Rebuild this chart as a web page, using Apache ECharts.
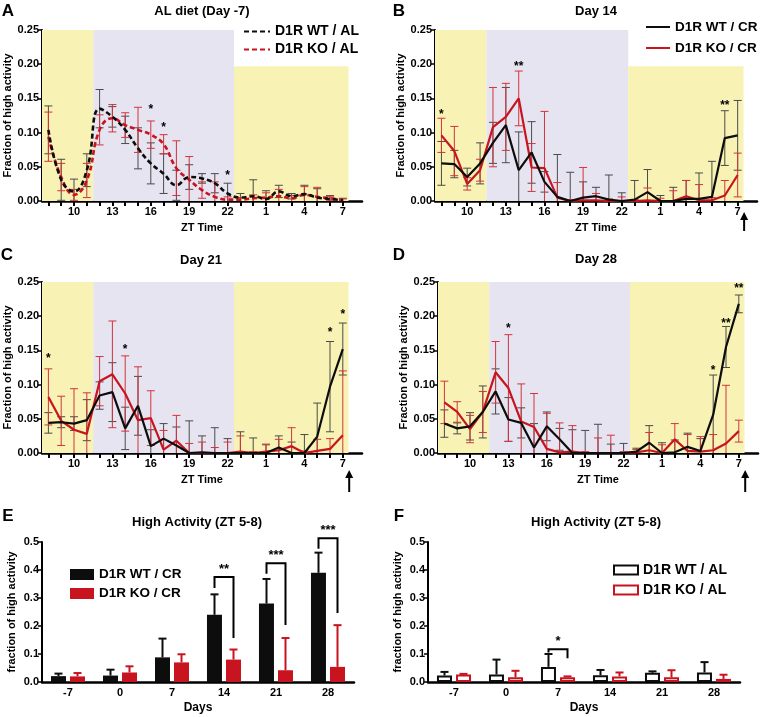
<!DOCTYPE html>
<html><head><meta charset="utf-8">
<script src="https://cdn.jsdelivr.net/npm/echarts@6/dist/echarts.min.js"></script>
<style>html,body{margin:0;padding:0;background:#fff}#c{width:761px;height:717px}</style>
</head><body><div id="c"></div><script>
// ---------- DATA ----------
const ztHours = [8,9,10,11,12,13,14,15,16,17,18,19,20,21,22,23,24,25,26,27,28,29,30,31];
const ztLabelHours = [10,13,16,19,22,25,28,31];
const ztLabelText = ['10','13','16','19','22','1','4','7'];

// Panel A: AL diet (Day -7)
const aWT  = [0.104,0.031,0.014,0.045,0.135,0.123,0.104,0.077,0.055,0.040,0.023,0.035,0.033,0.026,0.011,0.005,0.007,0.003,0.014,0.007,0.010,0.005,0.003,0.001];
const aWTe = [0.035,0.030,0.018,0.024,0.028,0.015,0.020,0.030,0.030,0.029,0.022,0.018,0.007,0.014,0.015,0.006,0.024,0.012,0.009,0.004,0.013,0.013,0.005,0.003];
const aKO  = [0.094,0.035,0.009,0.030,0.104,0.121,0.111,0.104,0.097,0.083,0.048,0.031,0.016,0.006,0.002,0.002,0.004,0.005,0.007,0.004,0.009,0.006,0.004,0.001];
const aKOe = [0.036,0.020,0.008,0.025,0.022,0.020,0.018,0.033,0.020,0.014,0.040,0.034,0.012,0.022,0.004,0.003,0.005,0.007,0.010,0.004,0.012,0.014,0.003,0.002];
// Panel B: Day 14
const bWT  = [0.055,0.054,0.035,0.055,0.085,0.111,0.045,0.071,0.028,0.006,0.000,0.005,0.007,0.002,0.000,0.002,0.013,0.000,0.000,0.003,0.003,0.006,0.092,0.096];
const bWTe = [0.032,0.020,0.013,0.030,0.030,0.055,0.056,0.045,0.015,0.062,0.042,0.023,0.013,0.036,0.012,0.028,0.033,0.008,0.020,0.027,0.038,0.052,0.040,0.051];
const bKO  = [0.096,0.073,0.025,0.045,0.108,0.123,0.150,0.049,0.048,0.005,0.000,0.001,0.001,0.000,0.000,0.000,0.001,0.000,0.000,0.007,0.001,0.001,0.008,0.038];
const bKOe = [0.025,0.036,0.009,0.016,0.058,0.049,0.040,0.035,0.083,0.022,0.002,0.048,0.010,0.003,0.006,0.002,0.018,0.004,0.015,0.023,0.023,0.004,0.022,0.032];
// Panel C: Day 21
const cWT  = [0.044,0.045,0.043,0.048,0.084,0.089,0.036,0.069,0.010,0.021,0.011,0.000,0.001,0.000,0.000,0.000,0.000,0.000,0.008,0.000,0.000,0.024,0.097,0.152];
const cWTe = [0.015,0.008,0.010,0.030,0.020,0.043,0.031,0.043,0.024,0.022,0.027,0.047,0.024,0.037,0.021,0.031,0.022,0.012,0.017,0.016,0.027,0.049,0.066,0.038];
const cKO  = [0.082,0.047,0.034,0.028,0.105,0.115,0.087,0.048,0.051,0.005,0.018,0.000,0.000,0.000,0.000,0.002,0.000,0.002,0.004,0.010,0.000,0.003,0.006,0.026];
const cKOe = [0.041,0.036,0.060,0.060,0.036,0.078,0.055,0.078,0.040,0.028,0.037,0.014,0.016,0.008,0.016,0.023,0.002,0.011,0.016,0.027,0.003,0.017,0.015,0.094];
// Panel D: Day 28
const dWT  = [0.043,0.036,0.039,0.060,0.090,0.049,0.044,0.008,0.039,0.020,0.000,0.000,0.000,0.000,0.000,0.002,0.015,0.000,0.001,0.009,0.003,0.056,0.155,0.218];
const dWTe = [0.020,0.008,0.020,0.038,0.033,0.032,0.022,0.035,0.021,0.016,0.034,0.033,0.042,0.013,0.014,0.005,0.025,0.015,0.018,0.020,0.018,0.058,0.030,0.013];
const dKO  = [0.074,0.060,0.035,0.060,0.118,0.095,0.046,0.038,0.006,0.001,0.002,0.000,0.000,0.000,0.000,0.001,0.004,0.000,0.020,0.003,0.002,0.004,0.014,0.032];
const dKOe = [0.031,0.015,0.020,0.030,0.045,0.078,0.055,0.049,0.052,0.043,0.038,0.002,0.022,0.026,0.002,0.004,0.026,0.012,0.023,0.024,0.022,0.023,0.085,0.016];

// light / dark periods: [startZT, endZT, top, kind]
const shadeAB = [[7.5,11.5,0.25,'light'],[11.5,22.5,0.25,'dark'],[22.5,31.45,0.197,'light']];
const shadeCD = [[7.5,11.5,0.25,'light'],[11.5,22.5,0.25,'dark'],[22.5,31.45,0.25,'light']];

// significance marks: [ZT, yValue], labels separately
const starsA = [[16,0.138],[17,0.111],[22,0.042]];  const starsALab = ['*','*','*'];
const starsB = [[8,0.131],[14,0.201],[30,0.144]];   const starsBLab = ['*','**','**'];
const starsC = [[8,0.143],[14,0.155],[30,0.180],[31,0.207]]; const starsCLab = ['*','*','*','*'];
const starsD = [[13,0.186],[29,0.125],[30,0.193],[31,0.244]]; const starsDLab = ['*','*','**','**'];

// Panels E/F
const days = ['-7','0','7','14','21','28'];
const eWT  = [0.021,0.023,0.088,0.240,0.280,0.390];
const eWTe = [0.009,0.021,0.067,0.073,0.088,0.072];
const eKO  = [0.020,0.034,0.070,0.080,0.042,0.054];
const eKOe = [0.012,0.022,0.029,0.036,0.115,0.149];
const fWT  = [0.023,0.027,0.054,0.024,0.033,0.034];
const fWTe = [0.013,0.053,0.046,0.019,0.005,0.037];
const fKO  = [0.027,0.017,0.017,0.020,0.017,0.011];
const fKOe = [0.002,0.023,0.003,0.014,0.025,0.015];
// brackets: [categoryIndex, top, leftEnd, rightEnd]
const eBrackets = [[3,0.375,0.336,0.157],[4,0.424,0.387,0.204],[5,0.513,0.476,0.246]];
const eBracketLab = ['**','***','***'];
const fBrackets = [[2,0.117,0.105,0.085]];
const fBracketLab = ['*'];

// ---------- STYLE ----------
const FONT = '"Liberation Sans", Arial, Helvetica, sans-serif';
const BLACK = '#0d0d0d', RED = '#c8141e';
const ERRB = '#4a4a4a', ERRR = '#d2343c';
const YELLOW = '#f8f3b4', LAV = '#e6e4f1';
const T = (s)=>({fontFamily:FONT, fontWeight:'bold', fontSize:s, color:'#000'});

const chart = echarts.init(document.getElementById('c'), null, {renderer:'canvas'});

const grids=[], xAxes=[], yAxes=[], series=[];

const linePanels = [
  {grid:[42,30,320], wt:aWT, wte:aWTe, ko:aKO, koe:aKOe, shade:shadeAB, dashed:true, stars:starsA, starLab:starsALab, names:['D1R WT / AL','D1R KO / AL'], arrow:null},
  {grid:[435,30,322], wt:bWT, wte:bWTe, ko:bKO, koe:bKOe, shade:shadeAB, dashed:false, stars:starsB, starLab:starsBLab, names:['D1R WT / CR','D1R KO / CR'], arrow:[11,30]},
  {grid:[42,282,320], wt:cWT, wte:cWTe, ko:cKO, koe:cKOe, shade:shadeCD, dashed:false, stars:starsC, starLab:starsCLab, names:['D1R WT / CR','D1R KO / CR'], arrow:[17,39]},
  {grid:[438,282,320], wt:dWT, wte:dWTe, ko:dKO, koe:dKOe, shade:shadeCD, dashed:false, stars:starsD, starLab:starsDLab, names:['D1R WT / CR','D1R KO / CR'], arrow:[17,39]}
];

function errSeries(k, means, errs, color, name, xs, offset, lw, upOnly, cap){
  return {type:'custom', name, xAxisIndex:k, yAxisIndex:k, z:3, silent:true,
    data: xs.map((h,i)=>[h, means[i], errs[i]]),
    renderItem(params, api){
      const x=api.value(0), m=api.value(1), e=api.value(2);
      const lo = upOnly ? m : Math.max(0, m-e), hi = m+e;
      const p1=api.coord([x,lo]), p2=api.coord([x,hi]);
      const px = p1[0]+offset;
      const st = {stroke:color, lineWidth:lw};
      const ch=[{type:'line', shape:{x1:px,y1:p1[1],x2:px,y2:p2[1]}, style:st},
                {type:'line', shape:{x1:px-cap,y1:p2[1],x2:px+cap,y2:p2[1]}, style:st}];
      if(!upOnly && m-e>0) ch.push({type:'line', shape:{x1:px-cap,y1:p1[1],x2:px+cap,y2:p1[1]}, style:st});
      return {type:'group', children:ch};
    }};
}

linePanels.forEach((p,k)=>{
  grids.push({left:p.grid[0], top:p.grid[1], width:p.grid[2], height:171});
  xAxes.push({gridIndex:k, type:'value', min:7.5, max:32.5,
    axisLine:{onZero:false, lineStyle:{color:'#000', width:2.5}},
    axisTick:{customValues:ztHours, length:5, lineStyle:{color:'#000', width:2}},
    axisLabel:{customValues:ztLabelHours, formatter:(v)=>ztLabelText[ztLabelHours.indexOf(v)] ?? '', margin:5, ...T(11)},
    splitLine:{show:false},
    name:'ZT Time', nameLocation:'middle', nameGap:21, nameTextStyle:T(11)});
  yAxes.push({gridIndex:k, type:'value', min:0, max:0.25, interval:0.05,
    axisLine:{show:true, lineStyle:{color:'#000', width:2}},
    axisTick:{show:true, length:4, lineStyle:{color:'#000', width:1.5}},
    axisLabel:{formatter:(v)=>v.toFixed(2), margin:3, ...T(11)},
    splitLine:{show:false},
    name:'Fraction of high activity', nameLocation:'middle', nameGap:28, nameTextStyle:T(11)});
  // background light/dark shading
  series.push({type:'custom', name:'_shade'+k, xAxisIndex:k, yAxisIndex:k, z:1, silent:true,
    data:p.shade.map(s=>[s[0],s[1],s[2]]),
    renderItem(params, api){
      const a=api.coord([api.value(0), api.value(2)]), b=api.coord([api.value(1), 0]);
      const kind=p.shade[params.dataIndex][3];
      return {type:'rect', shape:{x:a[0], y:a[1], width:b[0]-a[0], height:b[1]-a[1]}, style:{fill: kind==='light'?YELLOW:LAV}};
    }});
  series.push(errSeries(k, p.wt, p.wte, ERRB, '_ew'+k, ztHours, 0, 1, false, 4));
  series.push(errSeries(k, p.ko, p.koe, ERRR, '_ek'+k, ztHours, 0, 1, false, 4));
  const ls = (c)=>({color:c, width:p.dashed?2.6:2.2, type:p.dashed?[5,3]:'solid'});
  series.push({type:'line', name:p.names[1], xAxisIndex:k, yAxisIndex:k, z:4, symbol:'none', smooth:p.dashed?0.45:false,
    data:ztHours.map((h,i)=>[h,p.ko[i]]), lineStyle:ls(RED), itemStyle:{color:RED}});
  series.push({type:'line', name:p.names[0], xAxisIndex:k, yAxisIndex:k, z:4, symbol:'none', smooth:p.dashed?0.45:false,
    data:ztHours.map((h,i)=>[h,p.wt[i]]), lineStyle:ls(BLACK), itemStyle:{color:BLACK}});
  // significance stars
  series.push({type:'custom', name:'_st'+k, xAxisIndex:k, yAxisIndex:k, z:5, silent:true,
    data:p.stars,
    renderItem(params, api){
      const q=api.coord([api.value(0), api.value(1)]);
      return {type:'text', x:q[0], y:q[1]+3, style:{text:p.starLab[params.dataIndex], fill:'#000', font:'bold 12px '+FONT, align:'center', verticalAlign:'middle'}};
    }});
  if(p.arrow){
    const ar=p.arrow;
    series.push({type:'custom', name:'_ar'+k, xAxisIndex:k, yAxisIndex:k, z:5, silent:true, clip:false,
      data:[[31.5,0]],
      renderItem(params, api){
        const q=api.coord([api.value(0), api.value(1)]);
        const x=q[0], y0=q[1]+ar[0], y1=q[1]+ar[1];
        return {type:'group', children:[
          {type:'line', shape:{x1:x,y1:y0+6,x2:x,y2:y1}, style:{stroke:'#000', lineWidth:2}},
          {type:'polygon', shape:{points:[[x,y0],[x-4,y0+8],[x+4,y0+8]]}, style:{fill:'#000'}}]};
      }});
  }
});

// Bar panels
const barPanels = [
  {grid:[42,542,312], wt:eWT, wte:eWTe, ko:eKO, koe:eKOe, filled:true, names:['D1R WT / CR ','D1R KO / CR '], br:eBrackets, brLab:eBracketLab},
  {grid:[428,542,312], wt:fWT, wte:fWTe, ko:fKO, koe:fKOe, filled:false, names:['D1R WT / AL ','D1R KO / AL '], br:fBrackets, brLab:fBracketLab}
];
barPanels.forEach((p,j)=>{
  const k=4+j;
  grids.push({left:p.grid[0], top:p.grid[1], width:p.grid[2], height:140});
  xAxes.push({gridIndex:k, type:'category', data:days,
    axisLine:{lineStyle:{color:'#000', width:2.5}},
    axisTick:{alignWithLabel:true, length:4, lineStyle:{color:'#000', width:1.5}},
    axisLabel:{margin:5, ...T(11)},
    name:'Days', nameLocation:'middle', nameGap:20, nameTextStyle:T(12)});
  yAxes.push({gridIndex:k, type:'value', min:0, max:0.5, interval:0.1,
    axisLine:{show:true, lineStyle:{color:'#000', width:2}},
    axisTick:{show:true, length:4, lineStyle:{color:'#000', width:1.5}},
    axisLabel:{formatter:(v)=>v.toFixed(1), margin:3, ...T(11)},
    splitLine:{show:false},
    name:'fraction of high activity', nameLocation:'middle', nameGap:25, nameTextStyle:T(11)});
  const st = (c)=> p.filled ? {color:c} : {color:'#fff', borderColor:c, borderWidth:2};
  series.push({type:'bar', name:p.names[0], xAxisIndex:k, yAxisIndex:k, data:p.wt, barWidth:15, barGap:'27%', itemStyle:st(BLACK), z:3});
  series.push({type:'bar', name:p.names[1], xAxisIndex:k, yAxisIndex:k, data:p.ko, barWidth:15, barGap:'27%', itemStyle:st(RED), z:3});
  const idx = days.map((d,i)=>i);
  series.push(errSeries(k, p.wt, p.wte, BLACK, '_bew'+k, idx, -9.5, 2, true, 4));
  series.push(errSeries(k, p.ko, p.koe, RED, '_bek'+k, idx, 9.5, 2, true, 4));
  series.push({type:'custom', name:'_br'+k, xAxisIndex:k, yAxisIndex:k, z:5, silent:true, clip:false,
    data:p.br,
    renderItem(params, api){
      const c=api.value(0);
      const t=api.coord([c, api.value(1)]), l=api.coord([c, api.value(2)]), r=api.coord([c, api.value(3)]);
      const xl=t[0]-9.5, xr=t[0]+9.5;
      return {type:'group', children:[
        {type:'polyline', shape:{points:[[xl,l[1]],[xl,t[1]],[xr,t[1]],[xr,r[1]]]}, style:{stroke:'#000', lineWidth:2, fill:null}},
        {type:'text', x:t[0], y:t[1]-8, style:{text:p.brLab[params.dataIndex], fill:'#000', font:'bold 13px '+FONT, align:'center', verticalAlign:'middle'}}]};
    }});
});

const hideSym = {itemStyle:{opacity:0, color:'rgba(0,0,0,0)', borderWidth:0}};
const legends = [
  Object.assign({left:243, top:23, orient:'vertical', itemWidth:26, itemHeight:14, itemGap:1, data:['D1R WT / AL','D1R KO / AL'], textStyle:{...T(14), lineHeight:17}}, hideSym),
  Object.assign({left:645, top:18, orient:'vertical', itemWidth:24, itemHeight:14, itemGap:3, data:['D1R WT / CR','D1R KO / CR'], textStyle:{...T(13.5), lineHeight:18}}, hideSym),
  {left:70, top:566, orient:'vertical', itemWidth:24, itemHeight:11, itemGap:2, icon:'rect', data:['D1R WT / CR ','D1R KO / CR '], textStyle:{...T(13.5), lineHeight:17}},
  {left:613, top:561, orient:'vertical', itemWidth:24, itemHeight:9, itemGap:2, icon:'rect', data:['D1R WT / AL ','D1R KO / AL '], textStyle:{...T(14), lineHeight:18}}
].map(l=>Object.assign({selectedMode:false, padding:0}, l));

const texts = [
  ['A',8,11,17],['B',399,11,17],['C',7,255,17],['D',399,255,17],['E',8,516,17],['F',399,516,17],
  ['AL diet (Day -7)',202,11,13],['Day 14',596,11,13],['Day 21',201,260,13],['Day 28',596,259,13],
  ['High Activity (ZT 5-8)',197,522,13],['High Activity (ZT 5-8)',596,522,13]
];

chart.setOption({
  animation:false,
  grid:grids, xAxis:xAxes, yAxis:yAxes, series, legend:legends,
  graphic: texts.map(t=>({type:'text', x:t[1], y:t[2], style:{text:t[0], font:'bold '+t[3]+'px '+FONT, fill:'#000', textAlign:'center', textVerticalAlign:'middle'}}))
});
</script></body></html>
